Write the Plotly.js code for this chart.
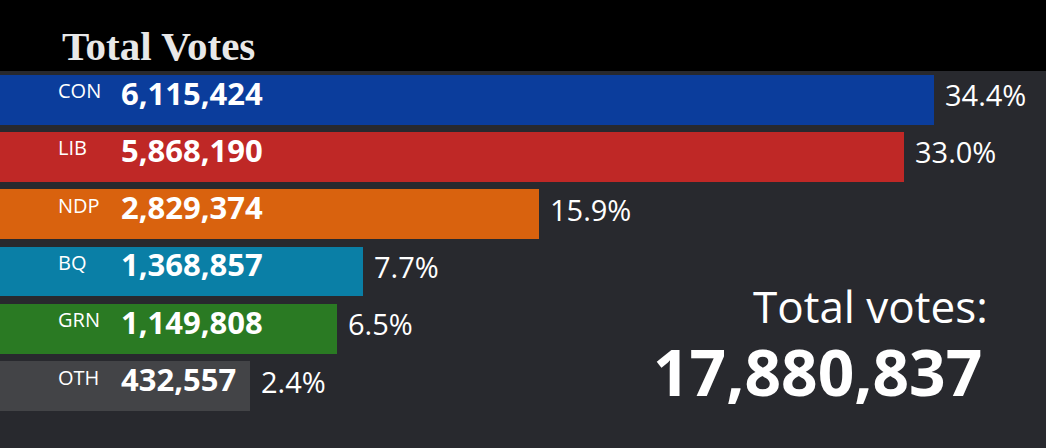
<!DOCTYPE html>
<html>
<head>
<meta charset="utf-8">
<script src="https://cdn.plot.ly/plotly-3.0.1.min.js"></script>
<style>html,body{margin:0;padding:0;background:#28292e;}#chart{width:1046px;height:448px;}</style>
</head>
<body>
<div id="chart"></div>
<script>
// ---- data ----
const parties = ['CON', 'LIB', 'NDP', 'BQ', 'GRN', 'OTH'];
const votes = [6115424, 5868190, 2829374, 1368857, 1149808, 432557];
const shares = [34.4, 33.0, 15.9, 7.7, 6.5, 2.4];
const totalVotes = 17880837;
const chartTitle = 'Total Votes';
const totalLabel = 'Total votes:';

// ---- style ----
const partyColors = ['#0b3d9c', '#bf2826', '#d9620e', '#0a7fa6', '#2a7a23', '#434447'];
const stub = 1650000;      // fixed visual lead-in of each bar (label area)
const xMax = 8700000;
const fontSans = 'Open Sans, Noto Sans, sans-serif';
const fmt = n => n.toLocaleString('en-US');

const stubTrace = {
  type: 'bar', orientation: 'h', y: parties, x: parties.map(() => stub),
  marker: {color: partyColors, line: {width: 0}}, width: 0.87,
  hoverinfo: 'skip', showlegend: false
};
const voteTrace = {
  type: 'bar', orientation: 'h', y: parties, x: votes,
  marker: {color: partyColors, line: {width: 0}}, width: 0.87,
  showlegend: false
};

const annotations = [];
parties.forEach((p, i) => {
  annotations.push({xref: 'paper', yref: 'y', x: 56 / 1046, y: p, xanchor: 'left', yanchor: 'middle',
    yshift: 9, text: p, showarrow: false, font: {family: fontSans, size: 20, color: '#ffffff'}});
  annotations.push({xref: 'paper', yref: 'y', x: 119 / 1046, y: p, xanchor: 'left', yanchor: 'middle',
    yshift: 7, text: fmt(votes[i]), showarrow: false, font: {family: fontSans, size: 31, color: '#ffffff', weight: 700}});
  annotations.push({xref: 'x', yref: 'y', x: stub + votes[i], y: p, xanchor: 'left', yanchor: 'middle',
    xshift: 9, yshift: 5, text: shares[i].toFixed(1) + '%', showarrow: false,
    font: {family: fontSans, size: 29, color: '#ffffff'}});
});
annotations.push({xref: 'paper', yref: 'paper', x: 990 / 1046, y: 0.318, xanchor: 'right', yanchor: 'middle',
  text: totalLabel, showarrow: false, font: {family: fontSans, size: 44, color: '#ffffff', weight: 500}});
annotations.push({xref: 'paper', yref: 'paper', x: 984 / 1046, y: 0.128, xanchor: 'right', yanchor: 'middle',
  text: fmt(totalVotes), showarrow: false, font: {family: fontSans, size: 64, color: '#ffffff', weight: 700}});

const layout = {
  width: 1046, height: 448,
  margin: {l: 0, r: 0, t: 71, b: 32, pad: 0},
  paper_bgcolor: '#28292e', plot_bgcolor: '#28292e',
  barmode: 'stack', bargap: 0.13,
  title: {text: chartTitle, x: 62 / 1046, xanchor: 'left', xref: 'paper', y: 1 - 46 / 448, yanchor: 'middle',
    font: {family: 'Liberation Serif, DejaVu Serif, serif', size: 41, color: '#e8e8e8', weight: 700}},
  xaxis: {range: [0, xMax], visible: false, fixedrange: true},
  yaxis: {autorange: 'reversed', visible: false, fixedrange: true},
  shapes: [{type: 'rect', xref: 'paper', yref: 'paper', x0: 0, x1: 1, y0: 1, y1: 1.5,
    fillcolor: '#000000', line: {width: 0}, layer: 'below'}],
  annotations: annotations
};

Plotly.newPlot('chart', [stubTrace, voteTrace], layout, {staticPlot: true, displayModeBar: false});
</script>
</body>
</html>
